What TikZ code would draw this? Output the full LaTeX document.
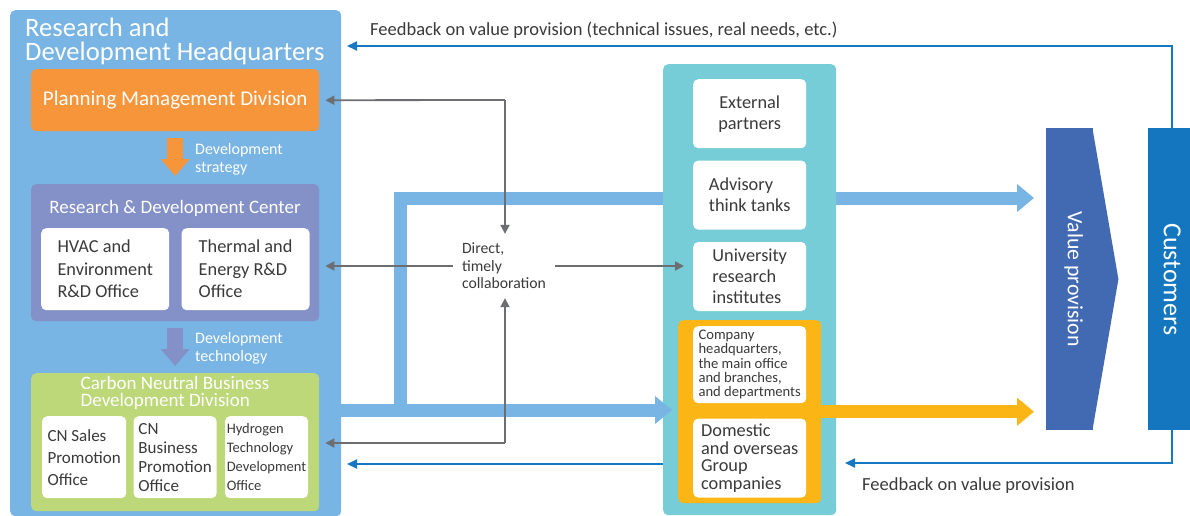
\documentclass[tikz,border=0pt]{standalone}
\usepackage{fontspec}
\setmainfont{Carlito}
\usetikzlibrary{arrows.meta,positioning,backgrounds}
\definecolor{hqblue}{RGB}{120,180,228}
\definecolor{planorange}{RGB}{247,149,59}
\definecolor{rdcpurple}{RGB}{132,144,200}
\definecolor{cngreen}{RGB}{188,216,120}
\definecolor{tealbox}{RGB}{118,205,215}
\definecolor{grpyellow}{RGB}{251,182,22}
\definecolor{vpblue}{RGB}{66,106,179}
\definecolor{custblue}{RGB}{19,118,190}
\definecolor{fbblue}{RGB}{23,119,195}
\definecolor{garrow}{RGB}{109,110,113}
\definecolor{txtgray}{RGB}{58,58,58}

\begin{document}
\begin{tikzpicture}[x=1pt, y=-1pt,
  panel/.style={anchor=north west, inner sep=0pt, rounded corners=5pt},
  office/.style={panel, fill=white, text=txtgray, align=left},
  ttl/.style={text=white, inner sep=0pt, align=left},
  note/.style={text=txtgray, inner sep=0pt},
  bigarr/.style={line width=13pt, -{Triangle[length=17pt, width=27pt]}},
  fatdown/.style={line width=16pt, -{Triangle[length=17pt, width=28pt]}},
  fbarr/.style={draw=fbblue, line width=1.8pt, -{Triangle[length=10pt, width=9pt]}},
  garr/.style={draw=garrow, line width=1.8pt, -{Triangle[length=9pt, width=9pt]}}]
\useasboundingbox (0,0) rectangle (1190,515);

% headquarters
\node[panel, fill=hqblue, minimum width=331pt, minimum height=506pt] (hq) at (10,10) {};
\node[ttl, anchor=north west, font=\fontsize{26.6}{24}\selectfont] (hqttl) at (25,18)
  {Research and\\Development Headquarters};
\node[panel, fill=planorange, text=white, minimum width=288pt, minimum height=62pt,
  font=\fontsize{21}{24}\selectfont] (plan) at (31,69) {Planning Management Division};

\node[panel, fill=rdcpurple, minimum width=288pt, minimum height=137pt] (rdc) at (31,184) {};
\node[ttl, anchor=north, font=\fontsize{19}{19}\selectfont] (rdcttl) at (175,200)
  {Research \& Development Center};
\node[office, minimum width=128pt, minimum height=82pt,
  font=\fontsize{18.3}{22.5}\selectfont] (hvac) at (41,228) {HVAC and\\Environment\\R\&D Office};
\node[office, minimum width=128pt, minimum height=82pt, right=12pt of hvac,
  font=\fontsize{18.3}{22.5}\selectfont] (therm) {Thermal and\\Energy R\&D\\Office};

\node[panel, fill=cngreen, minimum width=288pt, minimum height=138pt] (cnd) at (31,373) {};
\node[ttl, anchor=north, font=\fontsize{19}{17}\selectfont] (cndttl) at (175,376)
  {Carbon Neutral Business\\Development Division};
\node[office, minimum width=84pt, minimum height=82pt,
  font=\fontsize{17}{22}\selectfont] (cnsales) at (42,416) {CN Sales\\Promotion\\Office};
\node[office, minimum width=83pt, minimum height=82pt, right=7pt of cnsales,
  font=\fontsize{17}{19}\selectfont] (cnbiz) {CN\\Business\\Promotion\\Office};
\node[office, minimum width=83pt, minimum height=82pt, right=8pt of cnbiz,
  font=\fontsize{14.5}{19}\selectfont] (hydro) {Hydrogen\\Technology\\Development\\Office};

\draw[fatdown, draw=planorange] ([yshift=-7pt]plan.south) -- ([yshift=8pt]rdc.north);
\draw[fatdown, draw=rdcpurple] ([yshift=-7pt]rdc.south) -- ([yshift=7pt]cnd.north);
\node[ttl, anchor=north west, font=\fontsize{16}{18}\selectfont] (strlbl) at (195,143)
  {Development\\strategy};
\node[ttl, anchor=north west, font=\fontsize{16}{18}\selectfont] (teclbl) at (195,332)
  {Development\\technology};

% partners
\node[panel, fill=tealbox, minimum width=173pt, minimum height=451pt] (partners) at (663,64) {};
\node[office, align=center, minimum width=113pt, minimum height=69pt,
  font=\fontsize{18.3}{21}\selectfont] (extp) at (693,79) {External\\partners};
\node[office, minimum width=113pt, minimum height=69pt, below=12pt of extp,
  font=\fontsize{18.3}{21}\selectfont] (adv) {Advisory\\think tanks};
\node[office, minimum width=113pt, minimum height=69pt, below=12pt of adv,
  font=\fontsize{18.3}{21}\selectfont] (univ) {University\\research\\institutes};
\node[panel, fill=grpyellow, minimum width=143pt, minimum height=183pt] (grp) at (678,320) {};
\node[office, minimum width=113pt, minimum height=77pt,
  font=\fontsize{14.6}{14.3}\selectfont] (hqs) at (693,326)
  {Company\\headquarters,\\the main office\\and branches,\\and departments};
\node[office, minimum width=113pt, minimum height=79pt, below=15pt of hqs,
  font=\fontsize{18.3}{17.5}\selectfont] (dom) {Domestic\\and overseas\\Group\\companies};

% value and customers
\node[anchor=north west, fill=vpblue, minimum width=47pt, minimum height=302pt, inner sep=0pt,
  text=white, font=\fontsize{21.8}{21.8}\selectfont] (vp) at (1046,128)
  {\hspace*{8pt}\rotatebox{-90}{Value provision}};
\fill[vpblue] ([xshift=-1pt]vp.north east) -- ([xshift=25pt]vp.east)
  -- ([xshift=-1pt]vp.south east) -- cycle;
\node[anchor=north west, fill=custblue, minimum width=48pt, minimum height=302pt, inner sep=0pt,
  text=white, font=\fontsize{26}{26}\selectfont] (cust) at (1148,128) {\rotatebox{-90}{Customers}};

% thick flows
\coordinate (fork) at (400,410);
\coordinate (bend) at (400,198);
\begin{scope}[on background layer]
\draw[bigarr, draw=hqblue] (fork) -- (bend) -- ([xshift=-12pt]bend -| vp.west);
\end{scope}
\draw[bigarr, draw=hqblue] (fork -| hq.east) -- ([xshift=9pt]fork -| partners.west);
\draw[bigarr, draw=grpyellow] (grp.east) -- ([xshift=-12pt]grp.east -| vp.west);

% collaboration
\node[note, align=left, inner xsep=9pt, inner ysep=9pt,
  font=\fontsize{15.7}{17.5}\selectfont] (collab) at (504,266) {Direct,\\timely\\collaboration};
\coordinate (gtop) at (505,100);
\coordinate (gbot) at (505,443);
\draw[garr] (gtop) -- ([xshift=6pt]plan.east);
\draw[garr] (gtop) -- (gtop |- collab.north);
\draw[garr] (collab.west) -- ([xshift=6pt]collab.west -| rdc.east);
\draw[garr] (collab.east) -- ([xshift=-9pt]collab.east -| univ.west);
\draw[garr] (gbot) -- (gbot |- collab.south);
\draw[garr] (gbot) -- ([xshift=6pt]gbot -| cnd.east);

% feedback
\coordinate (fbtop) at (347,46);
\coordinate (fbbot) at (845,463);
\coordinate (fbleft) at (347,464);
\draw[fbarr] (cust.north) |- (fbtop);
\draw[fbarr] (cust.south) |- (fbbot);
\draw[fbarr] (partners.west |- fbleft) -- (fbleft);
\node[note, anchor=base west, font=\fontsize{18.5}{18.5}\selectfont] (fbtoplbl) at (370,35)
  {Feedback on value provision (technical issues, real needs, etc.)};
\node[note, anchor=base west, font=\fontsize{18.5}{18.5}\selectfont] (fbbotlbl) at (862,490)
  {Feedback on value provision};
\end{tikzpicture}
\end{document}
